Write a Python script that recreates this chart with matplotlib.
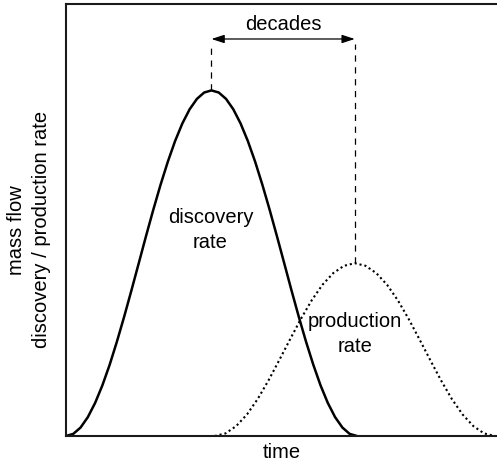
import matplotlib
matplotlib.use("Agg")
import matplotlib.pyplot as plt

plt.rcParams["font.family"] = ["Liberation Sans", "DejaVu Sans"]

# discovery rate curve (solid)
disc_t = [0, 1.69, 3.38, 5.06, 6.75, 8.44, 10.13, 11.81, 13.5, 15.19, 16.88, 18.56,
          20.25, 21.94, 23.63, 25.31, 27, 28.69, 30.38, 32.06, 33.75, 35.44, 37.13,
          38.81, 40.5, 42.19, 43.88, 45.56, 47.25, 48.94, 50.63, 52.31, 54, 55.69,
          57.38, 59.06, 60.75, 62.44, 64.13, 65.81, 67.5]
disc_rate = [0, 0.49, 1.96, 4.36, 7.64, 11.72, 16.49, 21.84, 27.64, 33.74, 40, 46.26,
             52.36, 58.16, 63.51, 68.28, 72.36, 75.64, 78.04, 79.51, 80, 79.51, 78.04,
             75.64, 72.36, 68.28, 63.51, 58.16, 52.36, 46.26, 40, 33.74, 27.64, 21.84,
             16.49, 11.72, 7.64, 4.36, 1.96, 0.49, 0]

# production rate curve (dotted)
prod_t = [34.5, 37, 39.5, 42, 44.5, 47, 49.5, 52, 54.5, 57, 59.5, 62, 64.5, 67,
          69.5, 72, 74.5, 77, 79.5, 82, 84.5, 87, 89.5, 92, 94.5, 97, 99.5]
prod_rate = [0, 0.6, 2.3, 5.0, 8.6, 12.9, 17.6, 22.4, 27.1, 31.4, 35.0, 37.7, 39.4, 40,
             39.4, 37.7, 35.0, 31.4, 27.1, 22.4, 17.6, 12.9, 8.6, 5.0, 2.3, 0.6, 0]

# peaks of both curves
disc_peak_t, disc_peak = 33.75, 80
prod_peak_t, prod_peak = 67, 40
arrow_level = 91.9


fig = plt.figure(figsize=(4.97, 4.64), dpi=100)
ax = fig.add_axes([66 / 497, 27 / 464, 431 / 497, 432 / 464])

ax.plot(disc_t, disc_rate, color="black", lw=1.8, solid_joinstyle="round",
        solid_capstyle="round")
ax.plot(prod_t, prod_rate, color="black", lw=1.5, linestyle=(0, (1, 1.4)))

# dashed markers from each peak up to the arrow
ax.plot([disc_peak_t, disc_peak_t], [disc_peak, arrow_level - 1.2], color="black",
        lw=0.9, linestyle=(0, (5, 4.5)))
ax.plot([prod_peak_t, prod_peak_t], [prod_peak, arrow_level - 1.2], color="black",
        lw=0.9, linestyle=(0, (5, 4.5)))

ax.annotate("", xy=(prod_peak_t, arrow_level), xytext=(disc_peak_t, arrow_level),
            arrowprops=dict(arrowstyle="<|-|>,head_length=0.55,head_width=0.18",
                            color="black", lw=0.9, mutation_scale=14,
                            shrinkA=0, shrinkB=0))
ax.text((disc_peak_t + prod_peak_t) / 2, 95.4, "decades", ha="center", va="center",
        fontsize=14.5)

ax.text(33.5, 47.9, "discovery\nrate", ha="center", va="center", fontsize=14.5,
        linespacing=1.4)
ax.text(67, 23.8, "production\nrate", ha="center", va="center", fontsize=14.5,
        linespacing=1.4)

ax.set_xlim(0, 100)
ax.set_ylim(0, 100)
ax.set_xticks([])
ax.set_yticks([])
ax.spines["right"].set_visible(False)
for s in ["left", "bottom", "top"]:
    ax.spines[s].set_linewidth(1.5)
    ax.spines[s].set_color("#1a1a1a")

ax.set_xlabel("time", fontsize=14.5, labelpad=4)
ax.set_ylabel("mass flow\ndiscovery / production rate", fontsize=14.5,
              linespacing=1.4)
ax.yaxis.set_label_coords(-0.035, 0.48)

fig.savefig("out.png", dpi=100)
